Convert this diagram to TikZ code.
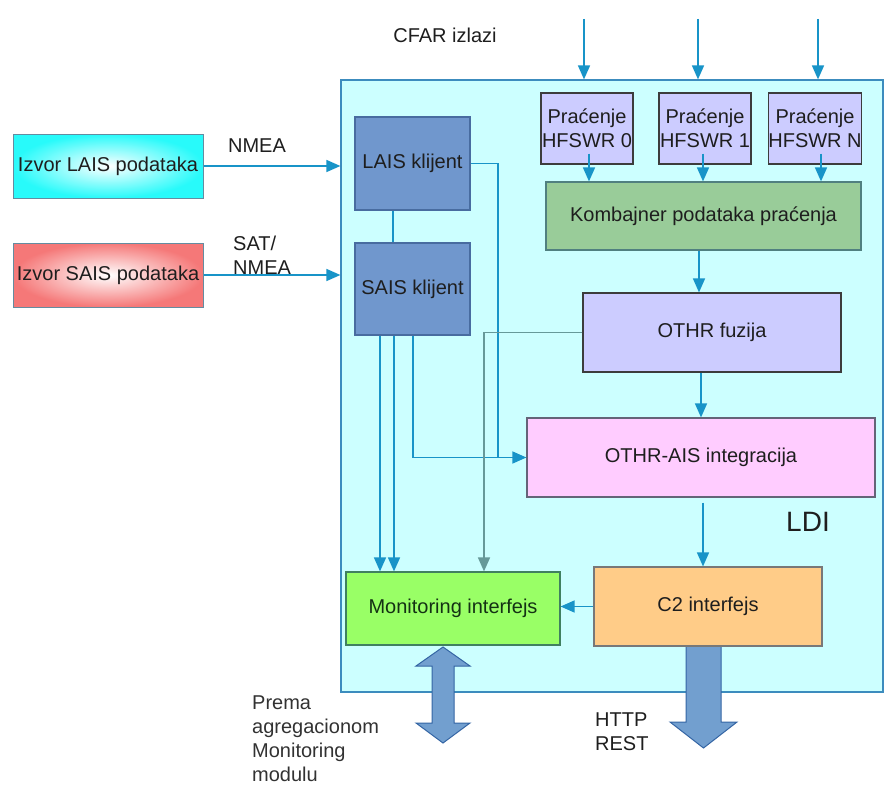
\documentclass[tikz,border=0pt]{standalone}
\usepackage{fontspec}
\setmainfont{Liberation Sans}
\usetikzlibrary{arrows.meta,calc}
\definecolor{arrblue}{RGB}{24,148,200}
\definecolor{ldifill}{RGB}{204,255,255}
\definecolor{ldiborder}{RGB}{60,140,190}
\definecolor{klfill}{RGB}{112,151,205}
\definecolor{klborder}{RGB}{72,108,160}
\definecolor{lav}{RGB}{204,204,255}
\definecolor{kombfill}{RGB}{153,204,153}
\definecolor{kombborder}{RGB}{80,128,128}
\definecolor{pinkfill}{RGB}{255,204,255}
\definecolor{c2fill}{RGB}{255,204,136}
\definecolor{monfill}{RGB}{153,255,102}
\definecolor{monborder}{RGB}{64,128,96}
\definecolor{grayarr}{RGB}{102,153,153}
\definecolor{bigfill}{RGB}{114,159,207}
\definecolor{bigborder}{RGB}{52,101,164}
\definecolor{txt}{RGB}{30,30,30}
\definecolor{montxt}{RGB}{20,50,20}
\definecolor{srccyan}{RGB}{40,250,250}
\definecolor{srcred}{RGB}{245,120,120}
\definecolor{srcborder}{RGB}{100,140,160}
\begin{document}
\begin{tikzpicture}[x=1pt,y=-1pt,
  every node/.style={font=\fontsize{20}{24}\selectfont, text=txt, inner sep=0pt},
  box/.style={draw, line width=1.2pt, rectangle, align=center},
  arr/.style={draw=arrblue, line width=1.5pt, -{Triangle[length=14pt,width=12pt]}},
  plainline/.style={draw=arrblue, line width=1.5pt},
  grayarrow/.style={draw=grayarr, line width=1.5pt, -{Triangle[length=14pt,width=12pt]}},
  bigarrow/.style={fill=bigfill, draw=bigborder, line width=1pt},
  lbl/.style={align=left}
]
\useasboundingbox (0,0) rectangle (885,789);

% LDI container
\node[box, fill=ldifill, draw=ldiborder, line width=1.2pt, minimum width=542, minimum height=612] (ldi) at (612,386) {};
\node[font=\fontsize{28}{30}\selectfont] (ldilbl) at (808,522) {LDI};

% big arrows (drawn before boxes)
\draw[bigarrow] (443,647) -- (470,666) -- (454,666) -- (454,723) -- (470,723) -- (443,743) -- (416,723) -- (432,723) -- (432,666) -- (416,666) -- cycle;
\draw[bigarrow] (686,640) -- (721,640) -- (721,722) -- (737,722) -- (703.5,748) -- (670,722) -- (686,722) -- cycle;

% sources
\node[box, draw=srcborder, line width=1pt, inner color=white, outer color=srccyan, minimum width=190, minimum height=64] (src1) at (108,166) {Izvor LAIS podataka};
\node[box, draw=srcborder, line width=1pt, inner color=white, outer color=srcred, minimum width=190, minimum height=64] (src2) at (108,275) {Izvor SAIS podataka};

% labels
\node (cfar) at (445,35) {CFAR izlazi};
\node (nmea) at (257,146) {NMEA};
\node[lbl, anchor=west] (satnmea) at (233,255) {SAT/\\NMEA};
\node[lbl, anchor=west, text={rgb,255:red,50;green,50;blue,50}] (prema) at (252,739) {Prema\\agregacionom\\Monitoring\\modulu};
\node[lbl, anchor=west] (http) at (595,732) {HTTP\\REST};

% clients
\node[box, fill=klfill, draw=klborder, minimum width=115, minimum height=93] (lais) at (412.5,163.5) {LAIS klijent};
\node[box, fill=klfill, draw=klborder, minimum width=115, minimum height=92] (sais) at (412.5,289) {SAIS klijent};

% tracking
\node[box, fill=lav, draw={rgb,255:red,60;green,60;blue,60}, minimum width=92, minimum height=71] (p0) at (587,128.5) {Praćenje\\HFSWR 0};
\node[box, fill=lav, draw={rgb,255:red,60;green,60;blue,60}, minimum width=92, minimum height=71] (p1) at (705,128.5) {Praćenje\\HFSWR 1};
\node[box, fill=lav, draw={rgb,255:red,60;green,60;blue,60}, minimum width=92, minimum height=71] (pN) at (815,128.5) {Praćenje\\HFSWR N};

\node[box, fill=kombfill, draw=kombborder, minimum width=315, minimum height=68] (komb) at (703.5,216) {Kombajner podataka praćenja};
\node[box, fill=lav, draw={rgb,255:red,60;green,60;blue,60}, minimum width=258, minimum height=79] (othrf) at (712,332.5) {OTHR fuzija};
\node[box, fill=pinkfill, draw={rgb,255:red,100;green,100;blue,120}, minimum width=348, minimum height=79] (othrais) at (701,457.5) {OTHR-AIS integracija};
\node[box, fill=c2fill, draw={rgb,255:red,120;green,120;blue,120}, minimum width=228, minimum height=79] (c2) at (708,606.5) {C2 interfejs};
\node[box, fill=monfill, draw=monborder, text=montxt, minimum width=214, minimum height=73] (monitor) at (453,608.5) {Monitoring interfejs};

% helper coordinates
\coordinate (c0) at (584,19);
\coordinate (c1) at (698,19);
\coordinate (cN) at (818,19);
\coordinate (p0b) at ($(p0.south)+(2,-11)$);
\coordinate (p1b) at ($(p1.south)+(-2,-11)$);
\coordinate (pNb) at ($(pN.south)+(6,-11)$);
\coordinate (ko) at (699,0);
\coordinate (oc) at ($(othrais.south)+(2,5)$);
\coordinate (kx) at (393,0);
\coordinate (m1) at (380,0);
\coordinate (m2) at (394,0);
\coordinate (s3) at (413,0);
\coordinate (l3) at (498,0);
\coordinate (g3) at (484,0);

% connectors
\draw[arr] (c0) -- (c0 |- ldi.north);
\draw[arr] (c1) -- (c1 |- ldi.north);
\draw[arr] (cN) -- (cN |- ldi.north);
\draw[arr] (p0b) -- (p0b |- komb.north);
\draw[arr] (p1b) -- (p1b |- komb.north);
\draw[arr] (pNb) -- (pNb |- komb.north);
\draw[arr] (komb.south -| ko) -- (othrf.north -| ko);
\draw[arr] (othrf.south -| othrais.north) -- (othrais.north);
\draw[arr] (oc) -- (oc |- c2.north);
\draw[arr] (c2.west) -- (c2.west -| monitor.east);
\draw[arr] (src1.east) -- (src1.east -| ldi.west);
\draw[arr] (src2.east) -- (src2.east -| ldi.west);
\draw[plainline] (lais.south -| kx) -- (sais.north -| kx);
\draw[plainline] (lais.east) -| (l3 |- othrais.west);
\draw[arr] (sais.south -| s3) |- (othrais.west);
\draw[grayarrow] (othrf.west) -| (g3 |- monitor.north);
\draw[arr] (sais.south -| m1) -- (monitor.north -| m1);
\draw[arr] (sais.south -| m2) -- (monitor.north -| m2);
\end{tikzpicture}
\end{document}
